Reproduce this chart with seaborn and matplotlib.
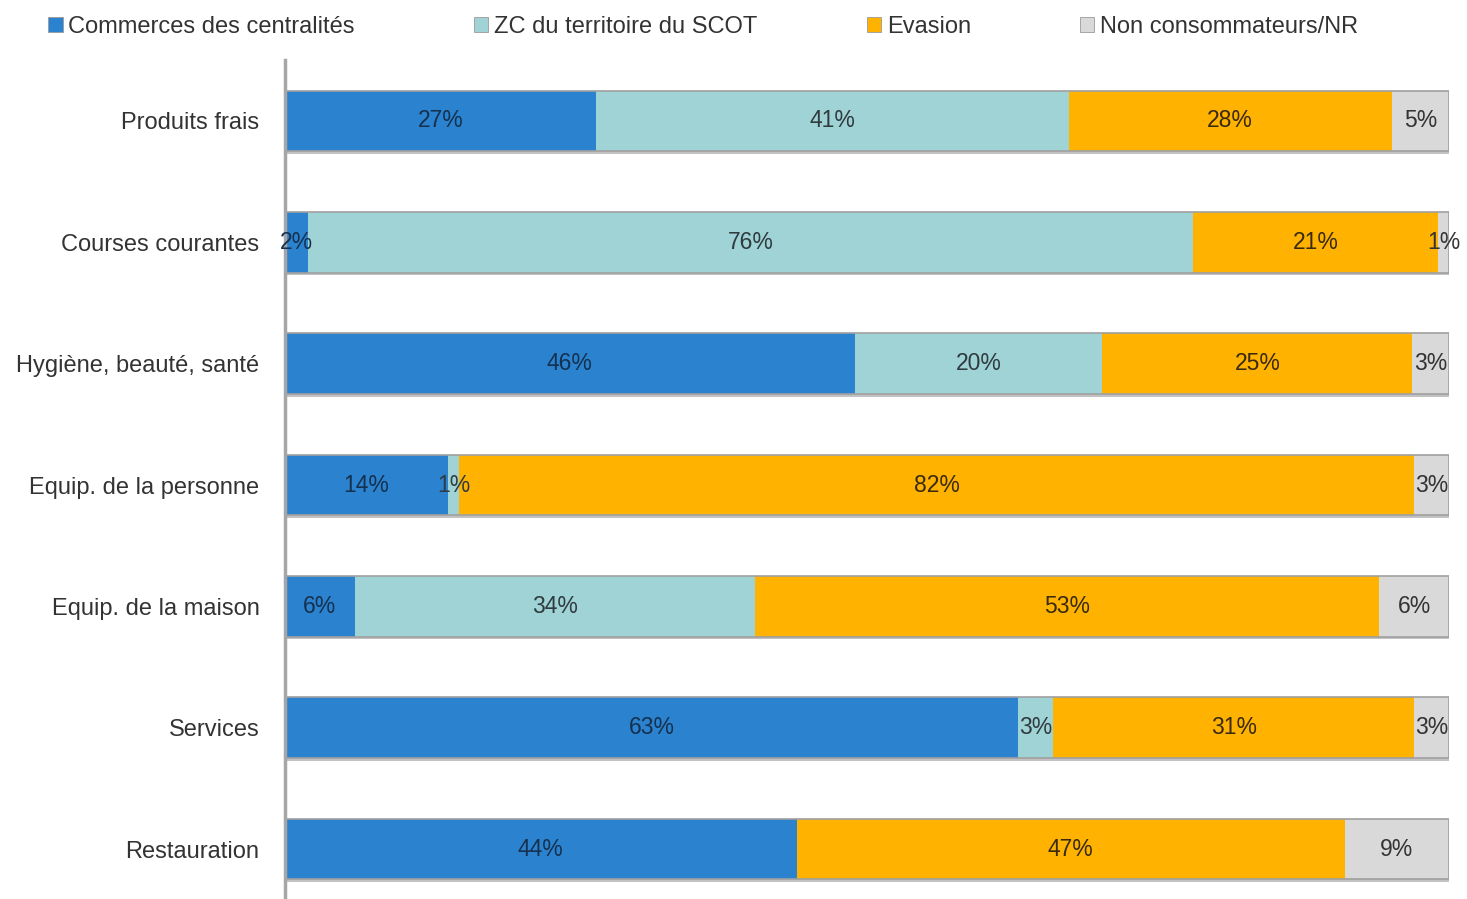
import numpy as np
import pandas as pd
import seaborn as sns
import matplotlib.pyplot as plt
import matplotlib.patheffects as pe
from matplotlib.patches import Patch

categories = [
    "Produits frais",
    "Courses courantes",
    "Hygiène, beauté, santé",
    "Equip. de la personne",
    "Equip. de la maison",
    "Services",
    "Restauration",
]
series = [
    "Commerces des centralités",
    "ZC du territoire du SCOT",
    "Evasion",
    "Non consommateurs/NR",
]
centralites = [27, 2, 46, 14, 6, 63, 44]
zc_scot = [41, 76, 20, 1, 34, 3, 0]
evasion = [28, 21, 25, 82, 53, 31, 47]
non_conso = [5, 1, 3, 3, 6, 3, 9]

colors = ["#2b83cf", "#a0d3d6", "#ffb300", "#d9d9d9"]
label_colors = ["#15314f", "#2f3b3f", "#3a2a10", "#333333"]

raw = np.array([centralites, zc_scot, evasion, non_conso], dtype=float)
share = raw / raw.sum(axis=0) * 100  # 100 % stacked
cum = np.cumsum(share, axis=0)

sns.set_style("white")
plt.rcParams["font.family"] = ["Liberation Sans", "DejaVu Sans"]

fig = plt.figure(figsize=(14.67, 8.99), dpi=100)
ax = fig.add_axes([0.194, -0.012, 0.794, 0.945])

shadow = [pe.SimplePatchShadow(offset=(2, -2), shadow_rgbFace="#9a9a9a", alpha=0.6), pe.Normal()]

# draw cumulative layers from the longest to the shortest
for i in range(3, -1, -1):
    df = pd.DataFrame({"cat": categories, "val": cum[i]})
    sns.barplot(data=df, y="cat", x="val", color=colors[i], orient="h",
                width=0.5, ax=ax, saturation=1, edgecolor="none", linewidth=0)
    if i == 3:
        for p in ax.patches:
            p.set_path_effects(shadow)

# outline round each whole bar
df = pd.DataFrame({"cat": categories, "val": cum[3]})
sns.barplot(data=df, y="cat", x="val", fill=False, orient="h", width=0.5,
            ax=ax, edgecolor="#a0a0a0", linewidth=1.2)

for i in range(4):
    start = cum[i] - share[i]
    for j in range(len(categories)):
        if raw[i, j] <= 0:
            continue
        ax.text(start[j] + share[i, j] / 2, j, f"{int(raw[i, j])}%",
                ha="center", va="center", fontsize=16.5, color=label_colors[i])

ax.set_xlim(0, 100)
ax.set_ylim(6.5, -0.5)
ax.set_xlabel("")
ax.set_ylabel("")
ax.set_xticks([])
ax.tick_params(axis="y", length=0, pad=18, labelsize=17, labelcolor="#333333")
for s in ["top", "right", "bottom"]:
    ax.spines[s].set_visible(False)
ax.spines["left"].set_color("#a6a6a6")
ax.spines["left"].set_linewidth(2.5)
ax.grid(False)

# one legend per entry so each sits where the reference has it
legend_x = [0.0185, 0.3085, 0.5765, 0.7215]
for c, name, x in zip(colors, series, legend_x):
    h = Patch(facecolor=c, edgecolor="#9a9a9a", linewidth=0.6)
    fig.legend([h], [name], loc="upper left", bbox_to_anchor=(x, 1.006),
               frameon=False, fontsize=17, handlelength=0.6, handleheight=0.6,
               handletextpad=0.25, labelcolor="#333333")

plt.savefig("out.png", dpi=100)
